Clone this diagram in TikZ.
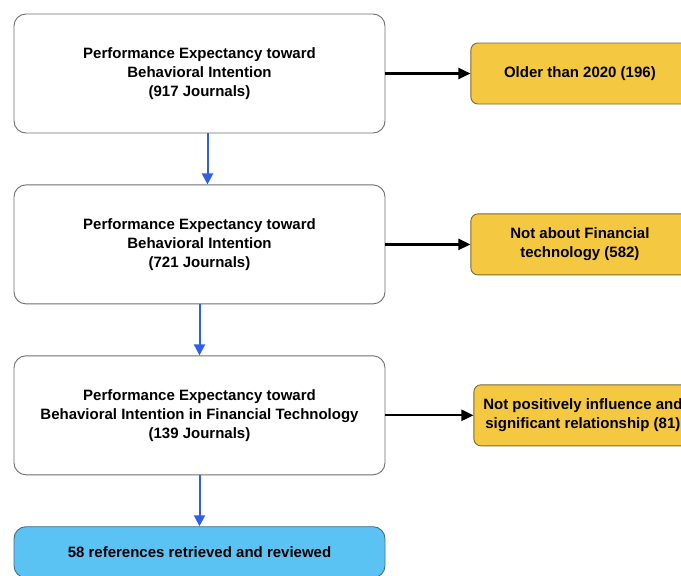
\documentclass[tikz,border=0pt]{standalone}
\usepackage{fontspec}
\setmainfont{Liberation Sans}
\usetikzlibrary{
  arrows.meta,
  positioning,
}
\definecolor{boxGray}{HTML}{6E6E6E}
\definecolor{excludeFill}{HTML}{F5C842}
\definecolor{excludeDraw}{HTML}{7D6A2E}
\definecolor{finalFill}{HTML}{5BC2F4}
\definecolor{finalDraw}{HTML}{4A6D85}
\definecolor{flowBlue}{HTML}{2E5FE6}
\tikzset{
  stage box/.style = {
    draw=boxGray,
    fill=white,
    rounded corners=12pt,
    line width=0.9pt,
    minimum width=371pt,
    minimum height=119pt,
    align=center,
    font=\fontsize{15}{19}\selectfont\bfseries
  },
  exclude box/.style = {
    stage box,
    draw=excludeDraw,
    fill=excludeFill,
    rounded corners=7pt,
    minimum width=218pt,
    minimum height=61pt
  },
  final box/.style = {
    stage box,
    draw=finalDraw,
    fill=finalFill,
    minimum height=51pt
  },
  flow arrow/.style = {
    draw=flowBlue,
    line width=2pt,
    -{Triangle[length=11pt,width=11pt]}
  },
  exclude arrow/.style = {
    draw=black,
    line width=2.2pt,
    -{Triangle[length=12pt,width=11pt]}
  },
}
\begin{document}
\begin{tikzpicture}[x=1pt,y=-1pt]
  \useasboundingbox (0,0) rectangle (681,576);
  %% main stages
  \node (s1) [stage box] at (199.5,73.5)
    {Performance Expectancy toward\\Behavioral Intention\\(917 Journals)};
  \node (s2) [below=51pt of s1, stage box]
    {Performance Expectancy toward\\Behavioral Intention\\(721 Journals)};
  \node (s3) [below=51pt of s2, stage box]
    {Performance Expectancy toward\\Behavioral Intention in Financial Technology\\(139 Journals)};
  \node (s4) [below=51pt of s3, final box]
    {58 references retrieved and reviewed};
  %% excluded records
  \node (e1) [right=85pt of s1, exclude box] {Older than 2020 (196)};
  \node (e2) [right=85pt of s2, exclude box] {Not about Financial\\technology (582)};
  \node (e3) [right=88pt of s3, exclude box]
    {Not positively influence and\\significant relationship (81)};
  %% arrows
  \draw[flow arrow] ([xshift=8pt]s1.south) -- ([xshift=8pt]s2.north);
  \draw[flow arrow] (s2) -- (s3);
  \draw[flow arrow] (s3) -- (s4);
  \draw[exclude arrow] (s1) -- (e1);
  \draw[exclude arrow] (s2) -- (e2);
  \draw[exclude arrow] (s3) -- (e3);
\end{tikzpicture}
\end{document}
